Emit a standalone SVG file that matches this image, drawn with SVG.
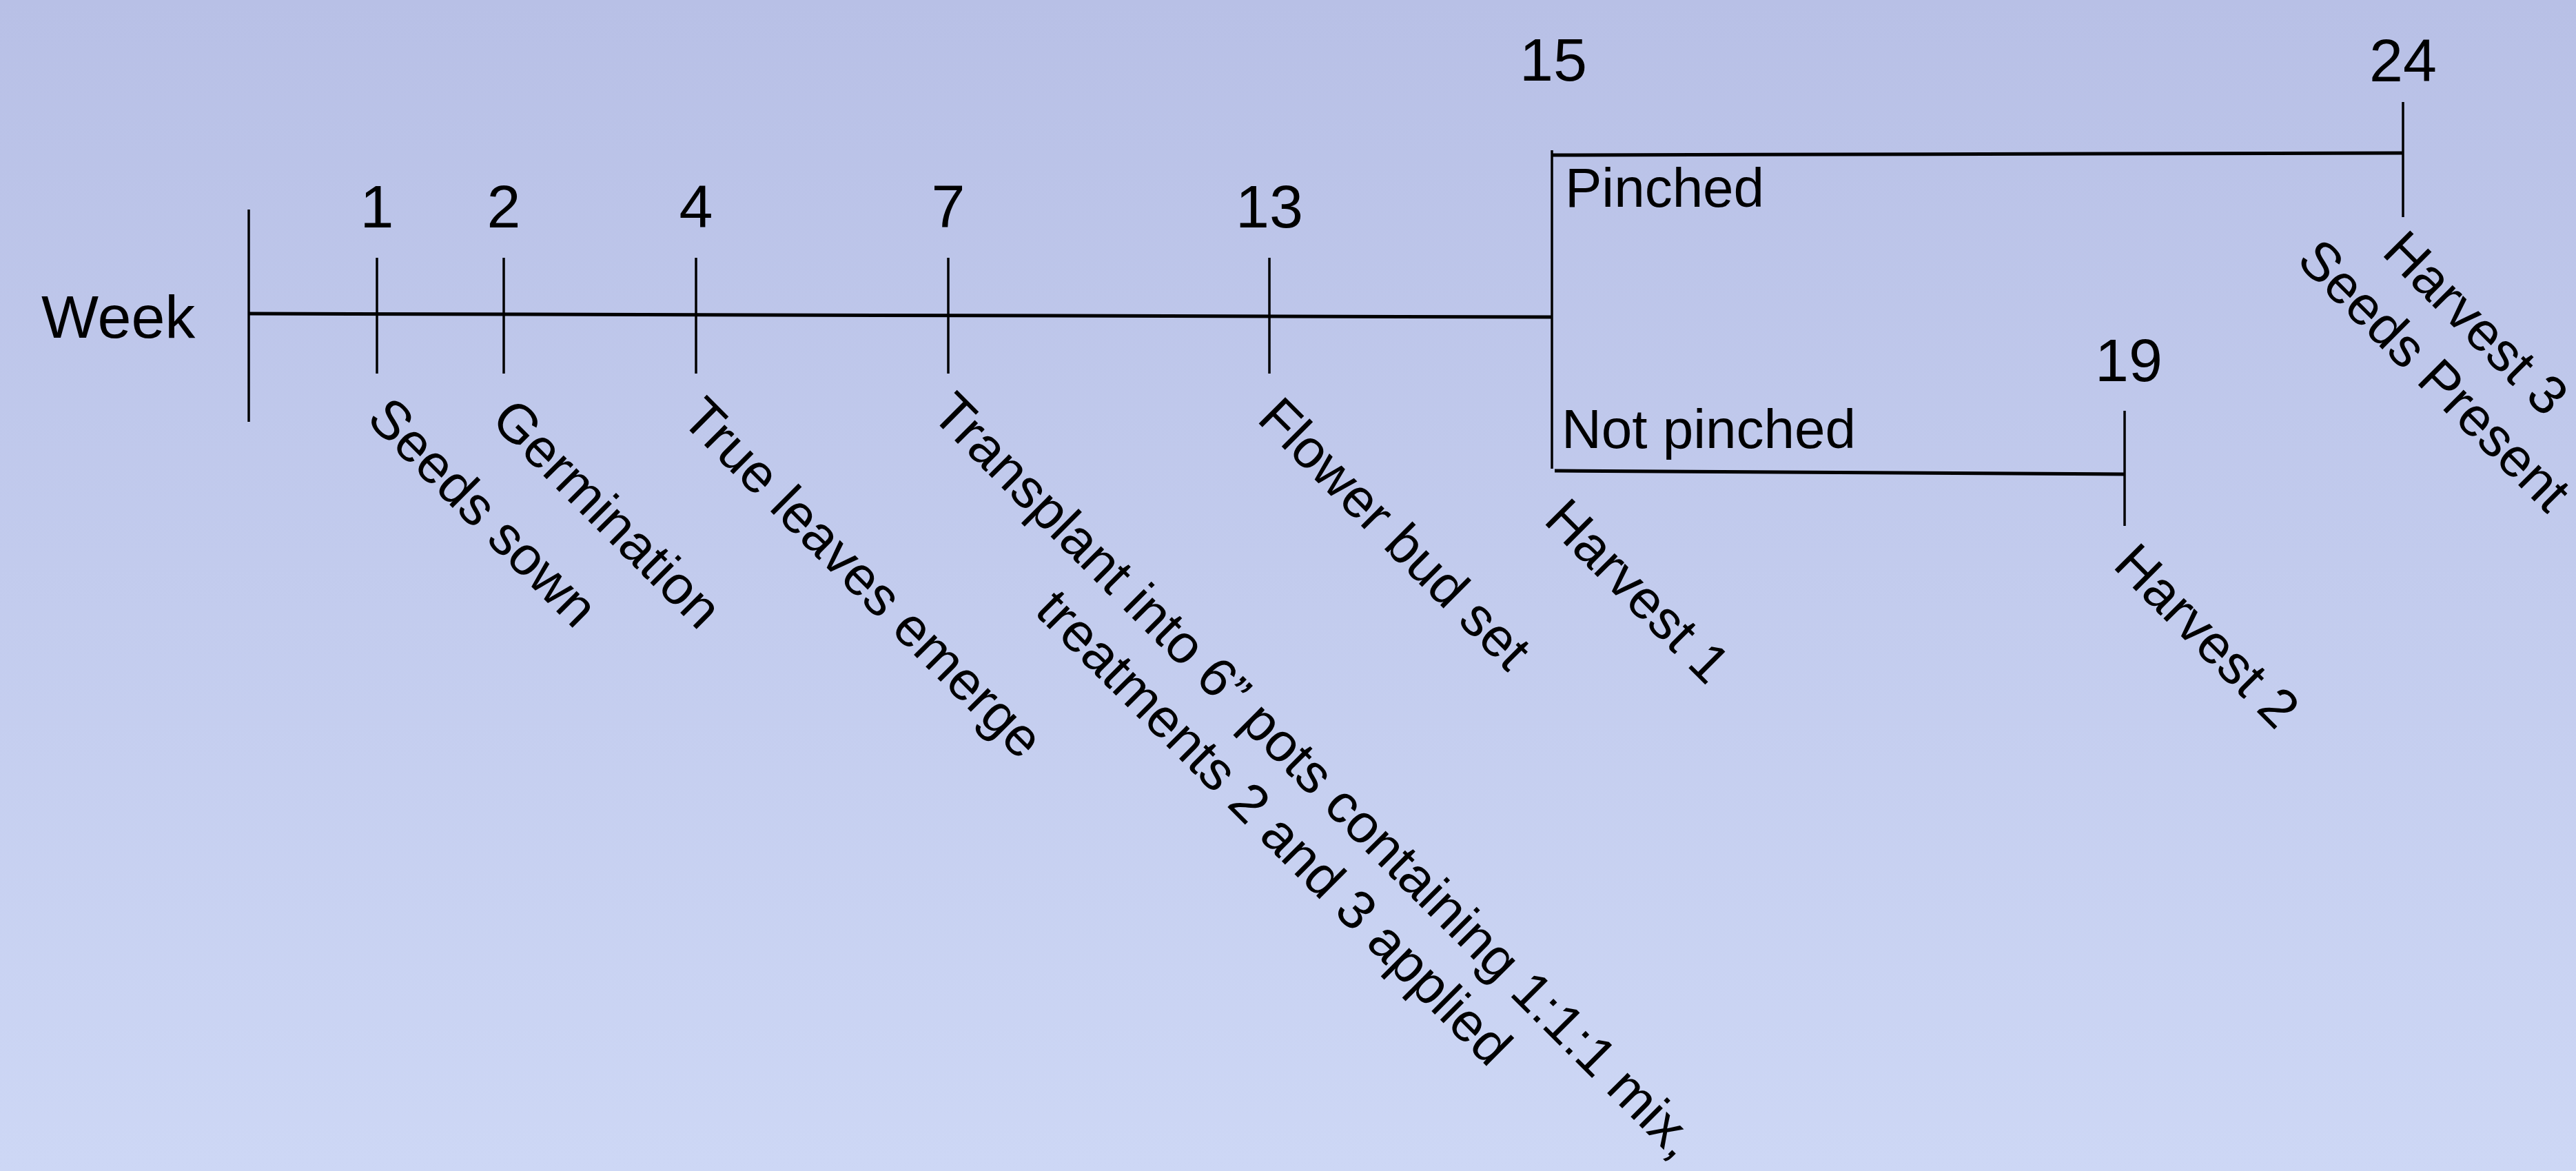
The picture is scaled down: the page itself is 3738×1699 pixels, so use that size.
<svg xmlns="http://www.w3.org/2000/svg" width="3738" height="1699" viewBox="0 0 3738 1699">
  <defs>
    <linearGradient id="bg" x1="0" y1="0" x2="0" y2="1">
      <stop offset="0" stop-color="#B8C0E6"/>
      <stop offset="1" stop-color="#CDD7F5"/>
    </linearGradient>
    <style>
      text { font-family: "Liberation Sans", Arial, sans-serif; fill: #000; }
      .num { font-size: 88px; text-anchor: middle; }
      .week { font-size: 88px; }
      .branch { font-size: 80px; }
      .lbl { font-size: 79px; }
      .axis { stroke: #000; stroke-width: 5; fill: none; }
      .tick { stroke: #000; stroke-width: 3.5; fill: none; }
    </style>
  </defs>

  <rect x="0" y="0" width="3738" height="1699" fill="url(#bg)"/>

  <!-- timeline axes and branches -->
  <g id="connectors">
    <line class="tick" x1="361" y1="304" x2="361" y2="612"/>
    <line class="axis" x1="361" y1="455" x2="2253" y2="460"/>
    <line class="tick" x1="2252" y1="218" x2="2252" y2="680"/>
    <line class="axis" x1="2253" y1="225" x2="3487" y2="222"/>
    <line class="axis" x1="2256" y1="683" x2="3083" y2="688"/>
  </g>

  <g id="week-label">
    <text class="week" x="60" y="490">Week</text>
  </g>

  <g id="week-1">
    <line class="tick" x1="547" y1="374" x2="547" y2="542"/>
    <text class="num" x="547" y="330">1</text>
    <text class="lbl" transform="translate(530,610) rotate(45)">Seeds sown</text>
  </g>

  <g id="week-2">
    <line class="tick" x1="731" y1="374" x2="731" y2="542"/>
    <text class="num" x="731" y="330">2</text>
    <text class="lbl" transform="translate(710,612) rotate(45)">Germination</text>
  </g>

  <g id="week-4">
    <line class="tick" x1="1010" y1="374" x2="1010" y2="542"/>
    <text class="num" x="1010" y="330">4</text>
    <text class="lbl" transform="translate(986,610) rotate(45)">True leaves emerge</text>
  </g>

  <g id="week-7">
    <line class="tick" x1="1376" y1="374" x2="1376" y2="542"/>
    <text class="num" x="1376" y="330">7</text>
    <text class="lbl" text-anchor="middle" transform="translate(1356,610) rotate(45)">
      <tspan x="766" y="0">Transplant into 6” pots containing 1:1:1 mix,</tspan>
      <tspan x="766" y="96">treatments 2 and 3 applied</tspan>
    </text>
  </g>

  <g id="week-13">
    <line class="tick" x1="1842" y1="374" x2="1842" y2="542"/>
    <text class="num" x="1842" y="330">13</text>
    <text class="lbl" transform="translate(1822,610) rotate(45)">Flower bud set</text>
  </g>

  <g id="week-15">
    <text class="num" x="2254" y="117">15</text>
    <text class="lbl" transform="translate(2238,757) rotate(45)">Harvest 1</text>
  </g>

  <g id="pinched">
    <text class="branch" x="2271" y="300">Pinched</text>
  </g>

  <g id="not-pinched">
    <text class="branch" x="2266" y="650">Not pinched</text>
  </g>

  <g id="week-19">
    <line class="tick" x1="3083" y1="596" x2="3083" y2="763"/>
    <text class="num" x="3089" y="553">19</text>
    <text class="lbl" transform="translate(3064,822) rotate(45)">Harvest 2</text>
  </g>

  <g id="week-24">
    <line class="tick" x1="3487" y1="148" x2="3487" y2="315"/>
    <text class="num" x="3487" y="118">24</text>
    <text class="lbl" text-anchor="middle" transform="translate(3462,376) rotate(45)">
      <tspan x="169" y="0">Harvest 3</tspan>
      <tspan x="169" y="96">Seeds Present</tspan>
    </text>
  </g>
</svg>
